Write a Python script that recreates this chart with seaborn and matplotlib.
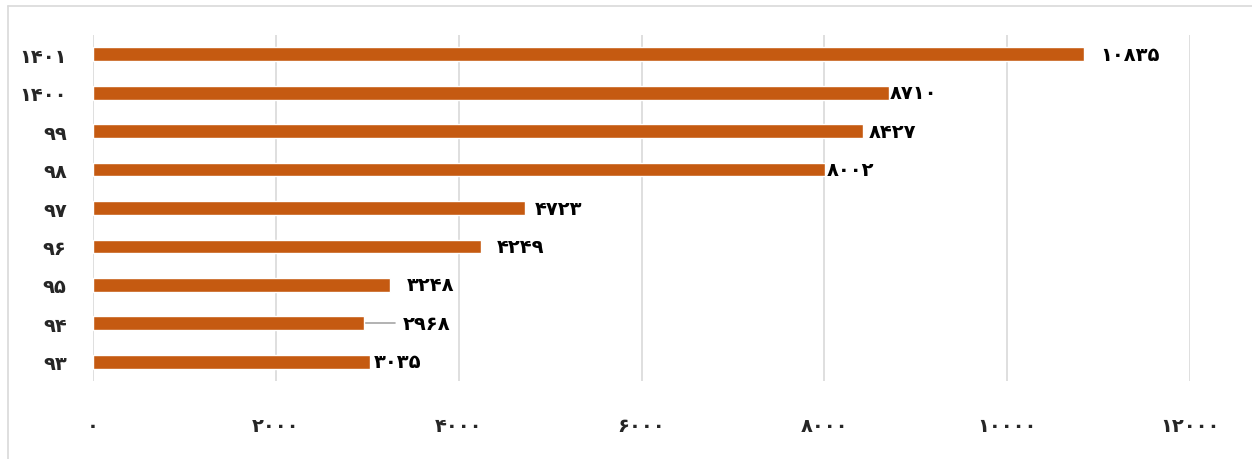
import numpy as np
import pandas as pd
import matplotlib
matplotlib.use("Agg")
import matplotlib.pyplot as plt
import seaborn as sns

# داده‌ها (از بالا به پایین)
years = ["۱۴۰۱", "۱۴۰۰", "۹۹", "۹۸", "۹۷", "۹۶", "۹۵", "۹۴", "۹۳"]
values = [10835, 8710, 8427, 8002, 4723, 4249, 3248, 2968, 3035]
value_labels = ["۱۰۸۳۵", "۸۷۱۰", "۸۴۲۷", "۸۰۰۲", "۴۷۲۳", "۴۲۴۹", "۳۲۴۸", "۲۹۶۸", "۳۰۳۵"]
xticks = [0, 2000, 4000, 6000, 8000, 10000, 12000]
xtick_labels = ["۰", "۲۰۰۰", "۴۰۰۰", "۶۰۰۰", "۸۰۰۰", "۱۰۰۰۰", "۱۲۰۰۰"]

# فاصله برچسب‌ها از انتهای میله (مثل اکسل که دستی جابه‌جا شده‌اند)
label_offsets = [180, 0, 60, 20, 110, 170, 180, 420, 40]

df = pd.DataFrame({"year": years, "value": values})

sns.set_theme(style="white")
plt.rcParams["font.family"] = ["DejaVu Sans"]

fig = plt.figure(figsize=(12.52, 4.6), dpi=100)
ax = fig.add_axes([0.0743, 0.1696, 0.8762, 0.7521])

sns.barplot(data=df, x="value", y="year", orient="h", color="#C55A11",
            saturation=1, width=0.36, ax=ax, zorder=3)

ax.set_xlim(0, 12000)
ax.set_ylim(8.5, -0.5)
ax.set_xticks(xticks)
ax.set_xticklabels(xtick_labels, fontsize=14, fontweight="bold")
ax.set_yticks(range(len(years)))
ax.set_yticklabels(years, fontsize=14, fontweight="bold")
ax.tick_params(axis="x", length=0, pad=25)
ax.tick_params(axis="y", length=0, pad=19)
ax.set_xlabel("")
ax.set_ylabel("")
ax.grid(axis="x", color="#D9D9D9", linewidth=1.2, zorder=0)
for s in ax.spines.values():
    s.set_visible(False)

for i, (v, lab, off) in enumerate(zip(values, value_labels, label_offsets)):
    ax.text(v + off, i, lab, ha="left", va="center", fontsize=14,
            fontweight="bold", color="black", zorder=4)
    if off > 300:
        # خط راهنما برای برچسب جابه‌جا شده
        ax.plot([v, v + off - 80], [i, i], color="#A6A6A6", linewidth=1.2, zorder=2)

# قاب بیرونی نمودار
fig.add_artist(plt.Line2D([8 / 1252, 8 / 1252], [0, 1 - 7 / 460], color="#D9D9D9", linewidth=1.2))
fig.add_artist(plt.Line2D([8 / 1252, 1], [1 - 7 / 460, 1 - 7 / 460], color="#D9D9D9", linewidth=1.2))

fig.savefig("out.png", dpi=100)
